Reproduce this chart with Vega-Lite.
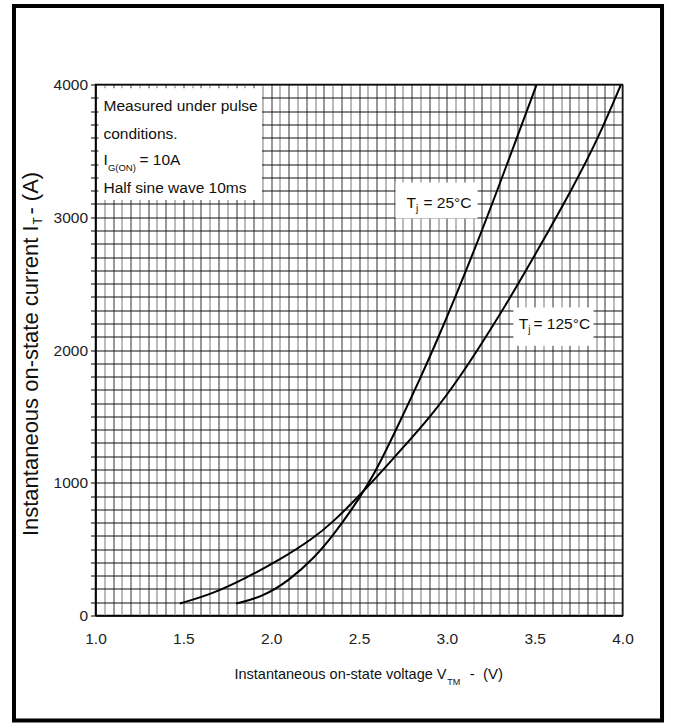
{
  "$schema": "https://vega.github.io/schema/vega-lite/v6.json",
  "width": 527,
  "height": 531,
  "padding": {"left": 11.5, "top": 3.5, "right": 11.5, "bottom": 0},
  "background": "white",
  "config": {"view": {"stroke": "black", "strokeWidth": 1.5}},
  "datasets": {
    "curves": [
      {"v": 1.8, "i": 90, "tj": "25°C"}, {"v": 1.95, "i": 140, "tj": "25°C"}, {"v": 2.1, "i": 260, "tj": "25°C"},
      {"v": 2.25, "i": 440, "tj": "25°C"}, {"v": 2.35, "i": 600, "tj": "25°C"}, {"v": 2.45, "i": 780, "tj": "25°C"},
      {"v": 2.55, "i": 985, "tj": "25°C"}, {"v": 2.62, "i": 1150, "tj": "25°C"}, {"v": 2.74, "i": 1480, "tj": "25°C"},
      {"v": 2.85, "i": 1790, "tj": "25°C"}, {"v": 2.95, "i": 2090, "tj": "25°C"}, {"v": 3.04, "i": 2370, "tj": "25°C"},
      {"v": 3.21, "i": 2930, "tj": "25°C"}, {"v": 3.34, "i": 3390, "tj": "25°C"}, {"v": 3.51, "i": 3995, "tj": "25°C"},
      {"v": 1.48, "i": 90, "tj": "125°C"}, {"v": 1.67, "i": 165, "tj": "125°C"}, {"v": 1.86, "i": 285, "tj": "125°C"},
      {"v": 2.05, "i": 420, "tj": "125°C"}, {"v": 2.24, "i": 580, "tj": "125°C"}, {"v": 2.36, "i": 715, "tj": "125°C"},
      {"v": 2.47, "i": 860, "tj": "125°C"}, {"v": 2.56, "i": 985, "tj": "125°C"}, {"v": 2.69, "i": 1175, "tj": "125°C"},
      {"v": 2.74, "i": 1250, "tj": "125°C"}, {"v": 2.91, "i": 1500, "tj": "125°C"}, {"v": 3.08, "i": 1805, "tj": "125°C"},
      {"v": 3.23, "i": 2115, "tj": "125°C"}, {"v": 3.35, "i": 2370, "tj": "125°C"}, {"v": 3.53, "i": 2780, "tj": "125°C"},
      {"v": 3.72, "i": 3230, "tj": "125°C"}, {"v": 3.86, "i": 3590, "tj": "125°C"}, {"v": 3.99, "i": 3995, "tj": "125°C"}
    ]
  },
  "layer": [
    {
      "data": {"name": "curves"},
      "mark": {"type": "line", "color": "black", "strokeWidth": 2, "interpolate": "basis"},
      "encoding": {
        "x": {
          "field": "v", "type": "quantitative",
          "scale": {"domain": [1, 4], "nice": false, "zero": false},
          "axis": {
            "title": null,
            "values": [1,1.05,1.1,1.15,1.2,1.25,1.3,1.35,1.4,1.45,1.5,1.55,1.6,1.65,1.7,1.75,1.8,1.85,1.9,1.95,2,2.05,2.1,2.15,2.2,2.25,2.3,2.35,2.4,2.45,2.5,2.55,2.6,2.65,2.7,2.75,2.8,2.85,2.9,2.95,3,3.05,3.1,3.15,3.2,3.25,3.3,3.35,3.4,3.45,3.5,3.55,3.6,3.65,3.7,3.75,3.8,3.85,3.9,3.95,4],
            "tickCount": 200,
            "labelExpr": "round(datum.value*20) % 10 == 0 ? format(datum.value, '.1f') : ''",
            "labelOverlap": false,
            "labelFlush": false,
            "labelFont": "Liberation Sans",
            "labelFontSize": 15.5,
            "labelColor": "#222",
            "labelPadding": 16,
            "ticks": false,
            "domainColor": "black",
            "domainWidth": 1.5,
            "grid": true,
            "gridColor": {"condition": {"test": "round(datum.value*20) % 2 == 0", "value": "#333333"}, "value": "#aaaaaa"},
            "gridWidth": {"condition": {"test": "round(datum.value*20) % 2 == 0", "value": 1}, "value": 1.6},
            "gridOpacity": 1
          }
        },
        "y": {
          "field": "i", "type": "quantitative",
          "scale": {"domain": [0, 4000], "nice": false, "zero": false},
          "axis": {
            "title": null,
            "values": [0,100,200,300,400,500,600,700,800,900,1000,1100,1200,1300,1400,1500,1600,1700,1800,1900,2000,2100,2200,2300,2400,2500,2600,2700,2800,2900,3000,3100,3200,3300,3400,3500,3600,3700,3800,3900,4000],
            "tickCount": 200,
            "format": "d",
            "labelExpr": "datum.value % 1000 == 0 ? datum.label : ''",
            "labelOverlap": false,
            "labelFlush": false,
            "labelFont": "Liberation Sans",
            "labelFontSize": 15.5,
            "labelColor": "#222",
            "labelPadding": 3,
            "tickSize": 5,
            "tickColor": "black",
            "domainColor": "black",
            "domainWidth": 1.5,
            "grid": true,
            "gridColor": "#111111",
            "gridWidth": 1,
            "gridOpacity": 1
          }
        },
        "detail": {"field": "tj", "type": "nominal"}
      }
    },
    {
      "data": {"values": [{"part": "frame"}]},
      "mark": {"type": "rect", "fill": null, "stroke": "black", "strokeWidth": 4},
      "encoding": {
        "x": {"datum": 0.536, "type": "quantitative", "scale": {"domain": [1, 4], "nice": false, "zero": false}},
        "x2": {"datum": 4.225},
        "y": {"datum": 4591, "type": "quantitative", "scale": {"domain": [0, 4000], "nice": false, "zero": false}},
        "y2": {"datum": -791}
      }
    },
    {
      "data": {"values": [{"box": "note"}]},
      "mark": {"type": "rect", "fill": "white"},
      "encoding": {"x": {"datum": 1.017, "type": "quantitative"}, "x2": {"datum": 1.948}, "y": {"datum": 3130, "type": "quantitative"}, "y2": {"datum": 3972}}
    },
    {
      "data": {"values": [{"box": "25"}]},
      "mark": {"type": "rect", "fill": "white"},
      "encoding": {"x": {"datum": 2.708, "type": "quantitative"}, "x2": {"datum": 3.175}, "y": {"datum": 2991, "type": "quantitative"}, "y2": {"datum": 3262}}
    },
    {
      "data": {"values": [{"box": "125"}]},
      "mark": {"type": "rect", "fill": "white"},
      "encoding": {"x": {"datum": 3.379, "type": "quantitative"}, "x2": {"datum": 3.835}, "y": {"datum": 2032, "type": "quantitative"}, "y2": {"datum": 2320}}
    },
    {
      "data": {"values": [{"t": "Measured under pulse"}]},
      "mark": {"type": "text", "font": "Liberation Sans", "fontSize": 15.5, "align": "left", "baseline": "alphabetic", "color": "#111"},
      "encoding": {"x": {"datum": 1.0455, "type": "quantitative"}, "y": {"datum": 3804, "type": "quantitative"}, "text": {"field": "t"}}
    },
    {
      "data": {"values": [{"t": "conditions."}]},
      "mark": {"type": "text", "font": "Liberation Sans", "fontSize": 15.5, "align": "left", "baseline": "alphabetic", "color": "#111"},
      "encoding": {"x": {"datum": 1.0455, "type": "quantitative"}, "y": {"datum": 3593, "type": "quantitative"}, "text": {"field": "t"}}
    },
    {
      "data": {"values": [{"t": "I"}]},
      "mark": {"type": "text", "font": "Liberation Sans", "fontSize": 15.5, "align": "left", "baseline": "alphabetic", "color": "#111"},
      "encoding": {"x": {"datum": 1.0455, "type": "quantitative"}, "y": {"datum": 3390, "type": "quantitative"}, "text": {"field": "t"}}
    },
    {
      "data": {"values": [{"t": "G(ON)"}]},
      "mark": {"type": "text", "font": "Liberation Sans", "fontSize": 9.5, "align": "left", "baseline": "alphabetic", "color": "#111"},
      "encoding": {"x": {"datum": 1.0705, "type": "quantitative"}, "y": {"datum": 3352, "type": "quantitative"}, "text": {"field": "t"}}
    },
    {
      "data": {"values": [{"t": "= 10A"}]},
      "mark": {"type": "text", "font": "Liberation Sans", "fontSize": 15.5, "align": "left", "baseline": "alphabetic", "color": "#111"},
      "encoding": {"x": {"datum": 1.2505, "type": "quantitative"}, "y": {"datum": 3390, "type": "quantitative"}, "text": {"field": "t"}}
    },
    {
      "data": {"values": [{"t": "Half sine wave 10ms"}]},
      "mark": {"type": "text", "font": "Liberation Sans", "fontSize": 15.5, "align": "left", "baseline": "alphabetic", "color": "#111"},
      "encoding": {"x": {"datum": 1.0455, "type": "quantitative"}, "y": {"datum": 3186, "type": "quantitative"}, "text": {"field": "t"}}
    },
    {
      "data": {"values": [{"t": "T"}]},
      "mark": {"type": "text", "font": "Liberation Sans", "fontSize": 15.5, "align": "left", "baseline": "alphabetic", "color": "#111"},
      "encoding": {"x": {"datum": 2.77, "type": "quantitative"}, "y": {"datum": 3066, "type": "quantitative"}, "text": {"field": "t"}}
    },
    {
      "data": {"values": [{"t": "j"}]},
      "mark": {"type": "text", "font": "Liberation Sans", "fontSize": 10, "align": "left", "baseline": "alphabetic", "color": "#111"},
      "encoding": {"x": {"datum": 2.8245, "type": "quantitative"}, "y": {"datum": 3036, "type": "quantitative"}, "text": {"field": "t"}}
    },
    {
      "data": {"values": [{"t": "= 25°C"}]},
      "mark": {"type": "text", "font": "Liberation Sans", "fontSize": 15.5, "align": "left", "baseline": "alphabetic", "color": "#111"},
      "encoding": {"x": {"datum": 2.867, "type": "quantitative"}, "y": {"datum": 3066, "type": "quantitative"}, "text": {"field": "t"}}
    },
    {
      "data": {"values": [{"t": "T"}]},
      "mark": {"type": "text", "font": "Liberation Sans", "fontSize": 15.5, "align": "left", "baseline": "alphabetic", "color": "#111"},
      "encoding": {"x": {"datum": 3.4097, "type": "quantitative"}, "y": {"datum": 2160, "type": "quantitative"}, "text": {"field": "t"}}
    },
    {
      "data": {"values": [{"t": "j"}]},
      "mark": {"type": "text", "font": "Liberation Sans", "fontSize": 10, "align": "left", "baseline": "alphabetic", "color": "#111"},
      "encoding": {"x": {"datum": 3.463, "type": "quantitative"}, "y": {"datum": 2130, "type": "quantitative"}, "text": {"field": "t"}}
    },
    {
      "data": {"values": [{"t": "= 125°C"}]},
      "mark": {"type": "text", "font": "Liberation Sans", "fontSize": 15.5, "align": "left", "baseline": "alphabetic", "color": "#111"},
      "encoding": {"x": {"datum": 3.4933, "type": "quantitative"}, "y": {"datum": 2160, "type": "quantitative"}, "text": {"field": "t"}}
    },
    {
      "data": {"values": [{"t": "Instantaneous on-state voltage V"}]},
      "mark": {"type": "text", "font": "Liberation Sans", "fontSize": 14.5, "align": "right", "baseline": "alphabetic", "color": "#111"},
      "encoding": {"x": {"datum": 2.998, "type": "quantitative"}, "y": {"datum": -475, "type": "quantitative"}, "text": {"field": "t"}}
    },
    {
      "data": {"values": [{"t": "TM"}]},
      "mark": {"type": "text", "font": "Liberation Sans", "fontSize": 9, "align": "left", "baseline": "alphabetic", "color": "#111"},
      "encoding": {"x": {"datum": 3.003, "type": "quantitative"}, "y": {"datum": -527, "type": "quantitative"}, "text": {"field": "t"}}
    },
    {
      "data": {"values": [{"t": "- \u00a0(V)"}]},
      "mark": {"type": "text", "font": "Liberation Sans", "fontSize": 15, "align": "left", "baseline": "alphabetic", "color": "#111"},
      "encoding": {"x": {"datum": 3.13, "type": "quantitative"}, "y": {"datum": -475, "type": "quantitative"}, "text": {"field": "t"}}
    },
    {
      "data": {"values": [{"t": "Instantaneous on-state current I"}]},
      "mark": {"type": "text", "font": "Liberation Sans", "fontSize": 22, "angle": 270, "align": "right", "baseline": "alphabetic", "color": "#111"},
      "encoding": {"x": {"datum": 0.6755, "type": "quantitative"}, "y": {"datum": 2938, "type": "quantitative"}, "text": {"field": "t"}}
    },
    {
      "data": {"values": [{"t": "T"}]},
      "mark": {"type": "text", "font": "Liberation Sans", "fontSize": 12, "angle": 270, "align": "left", "baseline": "alphabetic", "color": "#111"},
      "encoding": {"x": {"datum": 0.695, "type": "quantitative"}, "y": {"datum": 2945, "type": "quantitative"}, "text": {"field": "t"}}
    },
    {
      "data": {"values": [{"t": "- (A)"}]},
      "mark": {"type": "text", "font": "Liberation Sans", "fontSize": 22, "angle": 270, "align": "left", "baseline": "alphabetic", "color": "#111"},
      "encoding": {"x": {"datum": 0.6755, "type": "quantitative"}, "y": {"datum": 3020, "type": "quantitative"}, "text": {"field": "t"}}
    }
  ]
}
